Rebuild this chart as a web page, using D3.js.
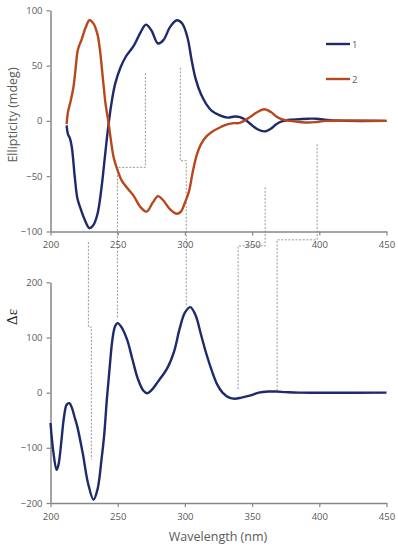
<!DOCTYPE html>
<html><head><meta charset="utf-8">
<script src="https://cdn.jsdelivr.net/npm/d3@7"></script>
<style>body{margin:0;background:#fff}svg{display:block}</style>
</head><body>
<svg id="c" width="398" height="550"></svg>
<script>
// ---- data ----
const xTicks = [200, 250, 300, 350, 400, 450];
const topYTicks = [-100, -50, 0, 50, 100];
const botYTicks = [-200, -100, 0, 100, 200];
const seriesNames = ["1", "2"];

// top panel: ellipticity (mdeg), compound 1
const top1nm = [212,213,214.5,216,218,220,222,225,229,232,235,238,240,242.5,245,248,252,256,262,267,271,275,280,284,289,294,298,302,305,308,312,316,320,326,332,337,341,345,349,354,359,364,368,372,378,385,392,398,404,410,420,450];
const top1val = [-4,-12,-16,-25,-50,-70,-78,-88,-97,-94,-84,-60,-38,-10,13,33,48,58,68,80,87,82,70,73,85,91,88,75,55,38,24,15,9,5,3,4,3.5,1,-3,-7.5,-9.5,-7,-3,-0.5,1,1.5,2,2,1,0.5,0,0];
// compound 2
const top2nm = [212,213,215,217,218.5,220,221,223,226,229,232,235,237,239,241,243,245,247,250,253,258,262,267,271.5,276,280,284,289,294,297,300,303,306,309,312,316,320,326,332,336,340,344,349,354,359,364,368,372,378,385,392,398,405,450];
const top2val = [-3,8,18,30,45,62,67,73,84,91,88,78,62,38,15,0,-18,-33,-45,-54,-62,-68,-78,-82,-74,-68,-72,-80,-84,-82,-74,-64,-45,-30,-21,-14,-10,-6,-3,-2,-2,0,4,8,10.5,8,4,1.5,0,-1,-1.5,-1,0,0];
// bottom panel: calculated Δε
const botNm = [200,202,204.5,206,208,210,212,214,216,218,220,224,228,232,235,238,240,242,244,246,248,250,253,257,261,265,269,272,275,280,287,292,296,300,304,308,312,316,320,324,328,333,337,342,349,355,362,368,375,385,450];
const botVal = [-55,-105,-140,-130,-90,-45,-22,-19,-28,-45,-62,-110,-165,-194,-175,-120,-75,-10,45,95,120,126,118,96,60,25,4,-1,4,20,45,75,115,145,155,140,105,70,40,15,0,-9,-11,-9,-5,0,2,2,1,0,0];

// dashed connectors: [panel, nm, value]
const connectors = [
  [["t",270.6,43],["t",270.6,-42],["t",249.8,-42],["b",249.8,135]],
  [["t",296.6,48],["t",296.6,-36],["t",301,-36],["b",301,155]],
  [["b",228.2,273],["b",228.2,119],["b",230.4,119],["b",230.4,-121]],
  [["t",359.7,-60],["b",359.7,266],["b",339.6,266],["b",339.6,5]],
  [["t",398.4,-21],["b",398.4,277],["b",368.6,277],["b",368.6,5]]
];

// ---- drawing ----
const svg = d3.select("#c");
const navy = "#1d2a6c", orange = "#b8481c", gray = "#595959", axisCol = "#868686";
const font = "'Open Sans', sans-serif";

const x = d3.scaleLinear().domain([200, 450]).range([50.5, 386.5]);
const yT = d3.scaleLinear().domain([-100, 100]).range([231.5, 10.3]);
const yB = d3.scaleLinear().domain([-200, 200]).range([503, 282.3]);

function styleAxis(g) {
  g.select(".domain").attr("stroke", axisCol).attr("stroke-width", 1.5);
  g.selectAll(".tick line").attr("stroke", axisCol).attr("stroke-width", 1.2);
  g.selectAll(".tick text").attr("fill", gray).attr("font-family", font).attr("font-size", "9.5px");
}

// connectors first (behind curves)
const connLine = d3.line().x(d => x(d[1])).y(d => d[0] === "t" ? yT(d[2]) : yB(d[2]));
svg.append("g").selectAll("path").data(connectors).join("path")
  .attr("d", connLine).attr("fill", "none").attr("stroke", "#8c8c8c")
  .attr("stroke-width", 0.9).attr("stroke-dasharray", "2,1.6");

// axes
[[yT, topYTicks], [yB, botYTicks]].forEach(([ys, ticks]) => {
  svg.append("g").attr("transform", `translate(${x(200)},0)`)
    .call(d3.axisLeft(ys).tickValues(ticks).tickSize(4).tickPadding(4).tickSizeOuter(0))
    .call(styleAxis);
  svg.append("g").attr("transform", `translate(0,${ys.range()[0]})`)
    .call(d3.axisBottom(x).tickValues(xTicks).tickSize(4).tickPadding(6).tickSizeOuter(0))
    .call(styleAxis);
});

const line = ys => d3.line().curve(d3.curveCatmullRom.alpha(0.5)).x(d => x(d[0])).y(d => ys(d[1]));
const s1 = d3.zip(top1nm, top1val), s2 = d3.zip(top2nm, top2val), sb = d3.zip(botNm, botVal);
svg.append("path").datum(s1).attr("d", line(yT)).attr("fill", "none").attr("stroke", navy).attr("stroke-width", 2.4);
svg.append("path").datum(s2).attr("d", line(yT)).attr("fill", "none").attr("stroke", orange).attr("stroke-width", 2.4);
svg.append("path").datum(sb).attr("d", line(yB)).attr("fill", "none").attr("stroke", navy).attr("stroke-width", 2.4);

// legend
const leg = svg.append("g");
seriesNames.forEach((n, i) => {
  const yy = 44 + i * 35;
  leg.append("line").attr("x1", 326).attr("x2", 350).attr("y1", yy).attr("y2", yy)
    .attr("stroke", i ? orange : navy).attr("stroke-width", 2.4);
  leg.append("text").attr("x", 352).attr("y", yy + 3.5).text(n)
    .attr("fill", gray).attr("font-family", font).attr("font-size", "9.5px");
});

// titles
svg.append("text").attr("transform", "translate(17,115) rotate(-90)").attr("text-anchor", "middle")
  .attr("fill", gray).attr("font-family", font).attr("font-size", "12.5px").text("Ellipticity (mdeg)");
svg.append("text").attr("x", 218).attr("y", 541).attr("text-anchor", "middle")
  .attr("fill", gray).attr("font-family", font).attr("font-size", "12.5px").text("Wavelength (nm)");
svg.append("text").attr("transform", "translate(17,317) rotate(-90)").attr("text-anchor", "middle")
  .attr("fill", "#222").attr("font-family", "'Liberation Serif', serif").attr("font-size", "15px").text("Δε");
</script>
</body></html>
